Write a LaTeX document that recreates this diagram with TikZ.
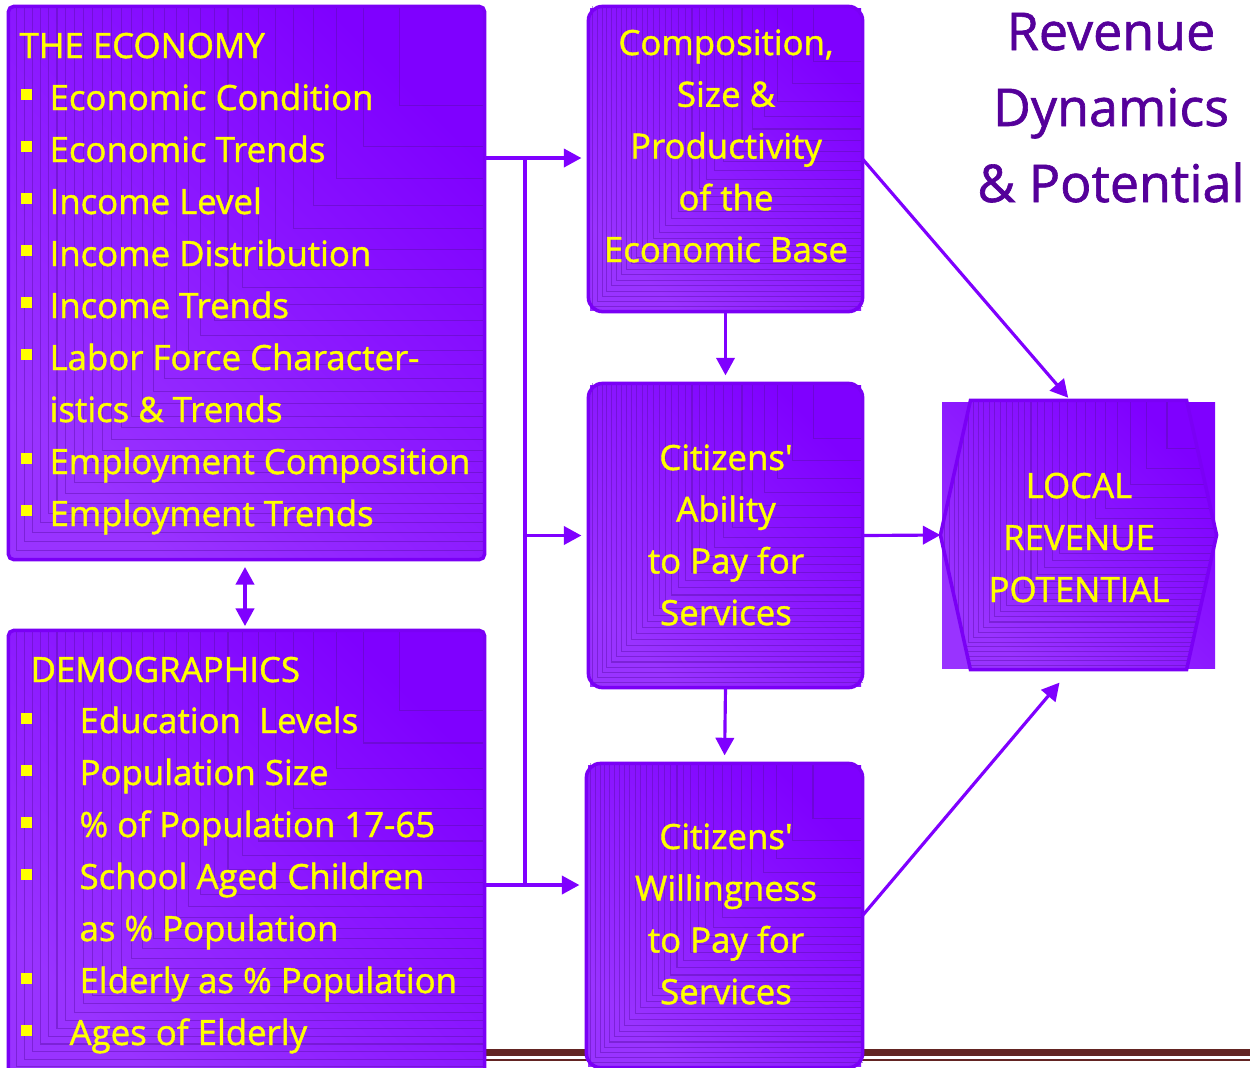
\documentclass[tikz,border=0pt]{standalone}
\usepackage{fontspec}
\setmainfont{Open Sans}[FakeBold=1.2]
\usetikzlibrary{arrows.meta,calc}

\definecolor{boxdark}{HTML}{7F00FF}
\definecolor{boxlight}{HTML}{9933FF}
\definecolor{boxedge}{HTML}{7A00F5}
\definecolor{stairline}{HTML}{5A0FA8}
\definecolor{headcol}{HTML}{55009A}
\definecolor{rulecol}{HTML}{632523}
\definecolor{txtcol}{HTML}{FFFF00}

% nested L-shaped bands that run from the upper right corner of a box
\newcommand\banding[1]{%
	\foreach \k in {1,...,30}{
		\pgfmathsetmacro\f{sqrt(\k/31)}
		\draw[stair] ($(#1.north east)!\f!(#1.north west)$) |- ($(#1.north east)!\f!(#1.south east)$);
	}}

\begin{document}
\begin{tikzpicture}[>={Triangle[length=5pt,width=5.2pt]}, line width=0.9pt,
    box/.style={inner sep=0pt, bottom color=boxlight, top color=boxdark, shading angle=-45},
    edge/.style={draw=boxedge, line width=1pt},
    stair/.style={draw=stairline, line width=0.3pt, opacity=0.45},
    item/.style={text=txtcol, inner sep=0pt, font=\fontsize{9.9}{12}\selectfont},
    bullet/.style={fill=txtcol},
    flow/.style={->, draw=boxdark},
    heading/.style={text=headcol, inner sep=0pt, font=\fontsize{14.8}{18}\selectfont}]
				\useasboundingbox (0,0) rectangle (12.5,-10.67);
				% double rule along the bottom
				\draw[rulecol, line width=2pt] (4.8,-10.525) -- (12.5,-10.525);
				\draw[rulecol, line width=0.6pt] (4.8,-10.60) -- (12.5,-10.60);
				% shaded boxes
				\node[box, minimum width=4.73cm, minimum height=5.50cm] (econ) at (2.465,-2.83) {};
				\node[box, minimum width=4.73cm, minimum height=4.40cm] (demo) at (2.465,-8.52) {};
				\node[box, minimum width=2.71cm, minimum height=3.02cm] (comp) at (7.255,-1.59) {};
				\node[box, minimum width=2.71cm, minimum height=3.01cm] (abil) at (7.255,-5.355) {};
				\node[box, minimum width=2.73cm, minimum height=3.01cm] (will) at (7.245,-9.155) {};
				\node[box, minimum width=2.73cm, minimum height=2.66cm] (local) at (10.785,-5.35) {};
				% banding of the gradient
				\banding{econ}
				\banding{demo}
				\banding{comp}
				\banding{abil}
				\banding{will}
				\begin{scope}
					\clip ([xshift=0.3cm]local.north west) -- ([xshift=-0.3cm]local.north east) -- (local.east)
						-- ([xshift=-0.3cm]local.south east) -- ([xshift=0.3cm]local.south west) -- (local.west) -- cycle;
					\banding{local}
				\end{scope}
				% outlines
				\draw[edge, rounded corners=1.5pt] (econ.south west) rectangle (econ.north east);
				\draw[edge, rounded corners=1.5pt] (demo.south west) rectangle (demo.north east);
				\draw[edge, rounded corners=4pt] (comp.south west) rectangle (comp.north east);
				\draw[edge, rounded corners=4pt] (abil.south west) rectangle (abil.north east);
				\draw[edge, rounded corners=4pt] (will.south west) rectangle (will.north east);
				\draw[edge] ([xshift=0.3cm]local.north west) -- ([xshift=-0.3cm]local.north east) -- (local.east)
					-- ([xshift=-0.3cm]local.south east) -- ([xshift=0.3cm]local.south west) -- (local.west) -- cycle;
				% the economy
				\node[item, anchor=base west] (econhead) at (0.18,-0.58) {THE ECONOMY};
				\foreach \t/\b [count=\i] in {Economic Condition/1, Economic Trends/1, Income Level/1,
						Income Distribution/1, Income Trends/1, Labor Force Character-/1, istics \& Trends/0,
						Employment Composition/1, Employment Trends/1}{
					\node[item, anchor=base west] (econ\i) at (0.48,{-1.10-0.52*(\i-1)}) {\t};
					\ifnum\b=1 \fill[bullet] (0.21,{-1.00-0.52*(\i-1)}) rectangle ++(0.11,0.115); \fi
				}
				% demographics
				\node[item, anchor=base west] (demohead) at (0.29,-6.82) {DEMOGRAPHICS};
				\foreach \t/\b [count=\i] in {Education\ \ Levels/1, Population Size/1, \% of Population 17-65/1,
						School Aged Children/1, as \% Population/0, Elderly as \% Population/1}{
					\node[item, anchor=base west] (demo\i) at (0.78,{-7.33-0.52*(\i-1)}) {\t};
					\ifnum\b=1 \fill[bullet] (0.21,{-7.24-0.52*(\i-1)}) rectangle ++(0.11,0.115); \fi
				}
				\node[item, anchor=base west] (demo7) at (0.68,-10.45) {Ages of Elderly};
				\fill[bullet] (0.21,-10.36) rectangle ++(0.11,0.115);
				% middle column and result
				\foreach \t [count=\i] in {{Composition,}, Size \&, Productivity, of the, Economic Base}
					\node[item, anchor=base] (comp\i) at (7.26,{-0.55-0.5175*(\i-1)}) {\t};
				\foreach \t [count=\i] in {Citizens\textquotesingle, Ability, to Pay for, Services}
					\node[item, anchor=base] (abil\i) at (7.26,{-4.70-0.517*(\i-1)}) {\t};
				\foreach \t [count=\i] in {Citizens\textquotesingle, Willingness, to Pay for, Services}
					\node[item, anchor=base] (will\i) at (7.26,{-8.49-0.517*(\i-1)}) {\t};
				\foreach \t [count=\i] in {LOCAL, REVENUE, POTENTIAL}
					\node[item, anchor=base] (local\i) at (10.79,{-4.98-0.52*(\i-1)}) {\t};
				\foreach \t [count=\i] in {Revenue, Dynamics, \& Potential}
					\node[heading, anchor=base] (head\i) at (11.11,{-0.50-0.76*(\i-1)}) {\t};
				% connectors
				\coordinate (trunktop) at (5.25,-1.58);
				\coordinate (trunkbot) at (5.25,-8.85);
				\draw[boxdark] (trunktop) -- (trunkbot);
				\draw[flow, shorten >=2pt] (trunktop -| econ.east) -- (trunktop -| comp.west);
				\draw[flow, shorten >=2pt] (trunktop |- abil.west) -- (abil.west);
				\draw[flow, shorten >=2pt] (trunkbot -| demo.east) -- (trunkbot -| will.west);
				\draw[flow, shorten >=2.3pt] (comp.south) -- (abil.north);
				\draw[flow, shorten >=2.3pt] (abil.south) -- (will.north);
				\draw[flow, shorten >=1pt] (comp.east) -- ([xshift=-0.08cm]local.north);
				\draw[flow] (abil.east) -- (local.west);
				\draw[flow, shorten >=0.17cm] (will.east) -- ([xshift=-0.08cm]local.south);
				\draw[flow, <->] (2.45,-5.67) -- (2.45,-6.26);
		\end{tikzpicture}
\end{document}
